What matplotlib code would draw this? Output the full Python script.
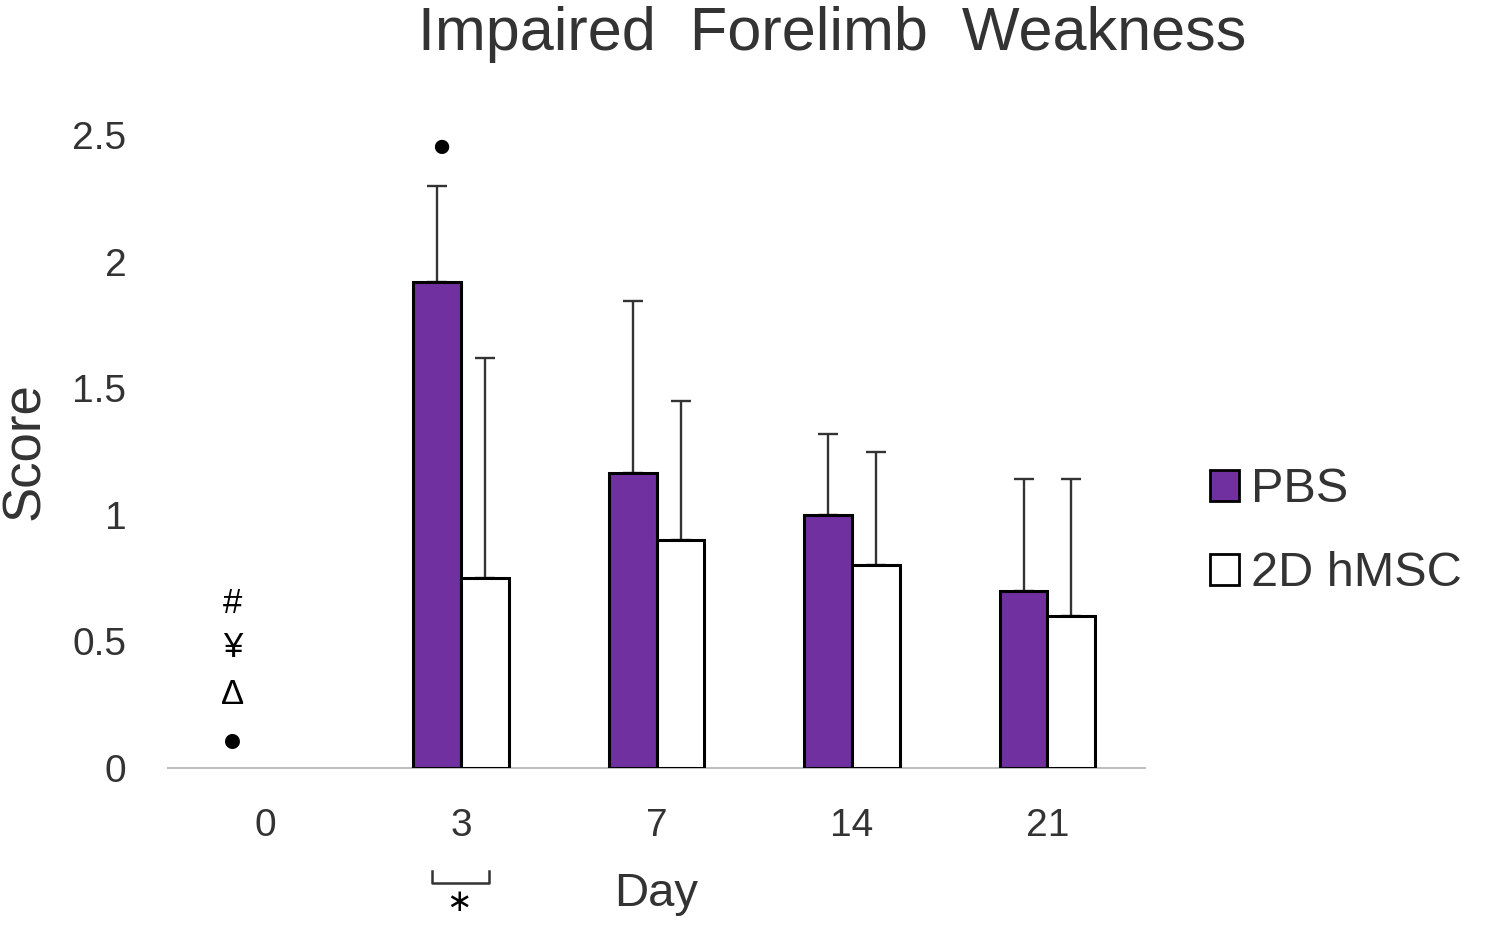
import numpy as np
import matplotlib
matplotlib.use("Agg")
from matplotlib import pyplot as plt
from matplotlib.patches import Patch
from matplotlib import transforms

plt.rcParams['font.family'] = ['Liberation Sans', 'DejaVu Sans']

days = ['0', '3', '7', '14', '21']
pbs = [0, 1.92, 1.165, 1.0, 0.70]
pbs_err = [0, 0.38, 0.68, 0.32, 0.44]
hmsc = [0, 0.75, 0.90, 0.80, 0.60]
hmsc_err = [0, 0.87, 0.55, 0.45, 0.54]

# significance marks
day0_marks = ['#', '¥', 'Δ', '●']
day0_marks_y = [0.65, 0.475, 0.29, 0.105]
day3_mark_y = 2.45

purple = '#7030A0'
x = np.arange(len(days))
w = 0.245

fig = plt.figure(figsize=(14.89, 9.25), dpi=100)
ax = fig.add_axes([0.1128, 0.1697, 0.6563, 0.6843])

# day 0 has zero scores -> nothing drawn there
ax.bar(x[1:] - w/2, pbs[1:], w, color=purple, edgecolor='black', linewidth=2.2, zorder=3)
ax.bar(x[1:] + w/2, hmsc[1:], w, color='white', edgecolor='black', linewidth=2.2, zorder=3)
ax.errorbar(x[1:] - w/2, pbs[1:], yerr=[np.zeros(4), pbs_err[1:]], fmt='none',
            ecolor='#333333', elinewidth=1.7, capsize=7, capthick=1.7, zorder=2)
ax.errorbar(x[1:] + w/2, hmsc[1:], yerr=[np.zeros(4), hmsc_err[1:]], fmt='none',
            ecolor='#333333', elinewidth=1.7, capsize=7, capthick=1.7, zorder=2)

ax.set_xlim(-0.5, 4.5)
ax.set_ylim(0, 2.5)
ax.set_yticks([0, 0.5, 1, 1.5, 2, 2.5])
ax.set_yticklabels(['0', '0.5', '1', '1.5', '2', '2.5'])
ax.set_xticks(x)
ax.set_xticklabels(days)
ax.tick_params(axis='both', length=0, labelsize=28, colors='#333333')
ax.tick_params(axis='y', pad=30)
ax.tick_params(axis='x', pad=29)
for s in ['top', 'right', 'left']:
    ax.spines[s].set_visible(False)
ax.spines['bottom'].set_color('#BFBFBF')
ax.spines['bottom'].set_linewidth(1.5)

ax.set_ylabel('Score', fontsize=38, color='#333333', labelpad=16)
ax.set_xlabel('Day', fontsize=34, color='#333333', labelpad=20)
fig.text(0.559, 0.963, 'Impaired  Forelimb  Weakness', fontsize=44, color='#333333',
         ha='center', va='center')

for m, yy in zip(day0_marks, day0_marks_y):
    ax.text(-0.17, yy, m, fontsize=25, ha='center', va='center', color='black')
ax.text(0.897, day3_mark_y, '●', fontsize=24, ha='center', va='center', color='black')

# bracket under day 3
tr = transforms.blended_transform_factory(ax.transData, ax.transAxes)
ax.plot([0.85, 0.85, 1.145, 1.145], [-0.162, -0.182, -0.182, -0.162], color='#333333',
        lw=1.8, transform=tr, clip_on=False)
ax.text(0.99, -0.213, '∗', fontsize=22, ha='center', va='center', transform=tr,
        family=['DejaVu Sans'])

handles = [Patch(facecolor=purple, edgecolor='black', linewidth=2),
           Patch(facecolor='white', edgecolor='black', linewidth=2)]
fig.legend(handles, ['PBS', '2D hMSC'], loc='center left', bbox_to_anchor=(0.783, 0.425),
           frameon=False, fontsize=35, handlelength=0.6, handleheight=0.6,
           handletextpad=0.25, labelspacing=0.8, labelcolor='#333333')

fig.savefig('out.png', dpi=100)
